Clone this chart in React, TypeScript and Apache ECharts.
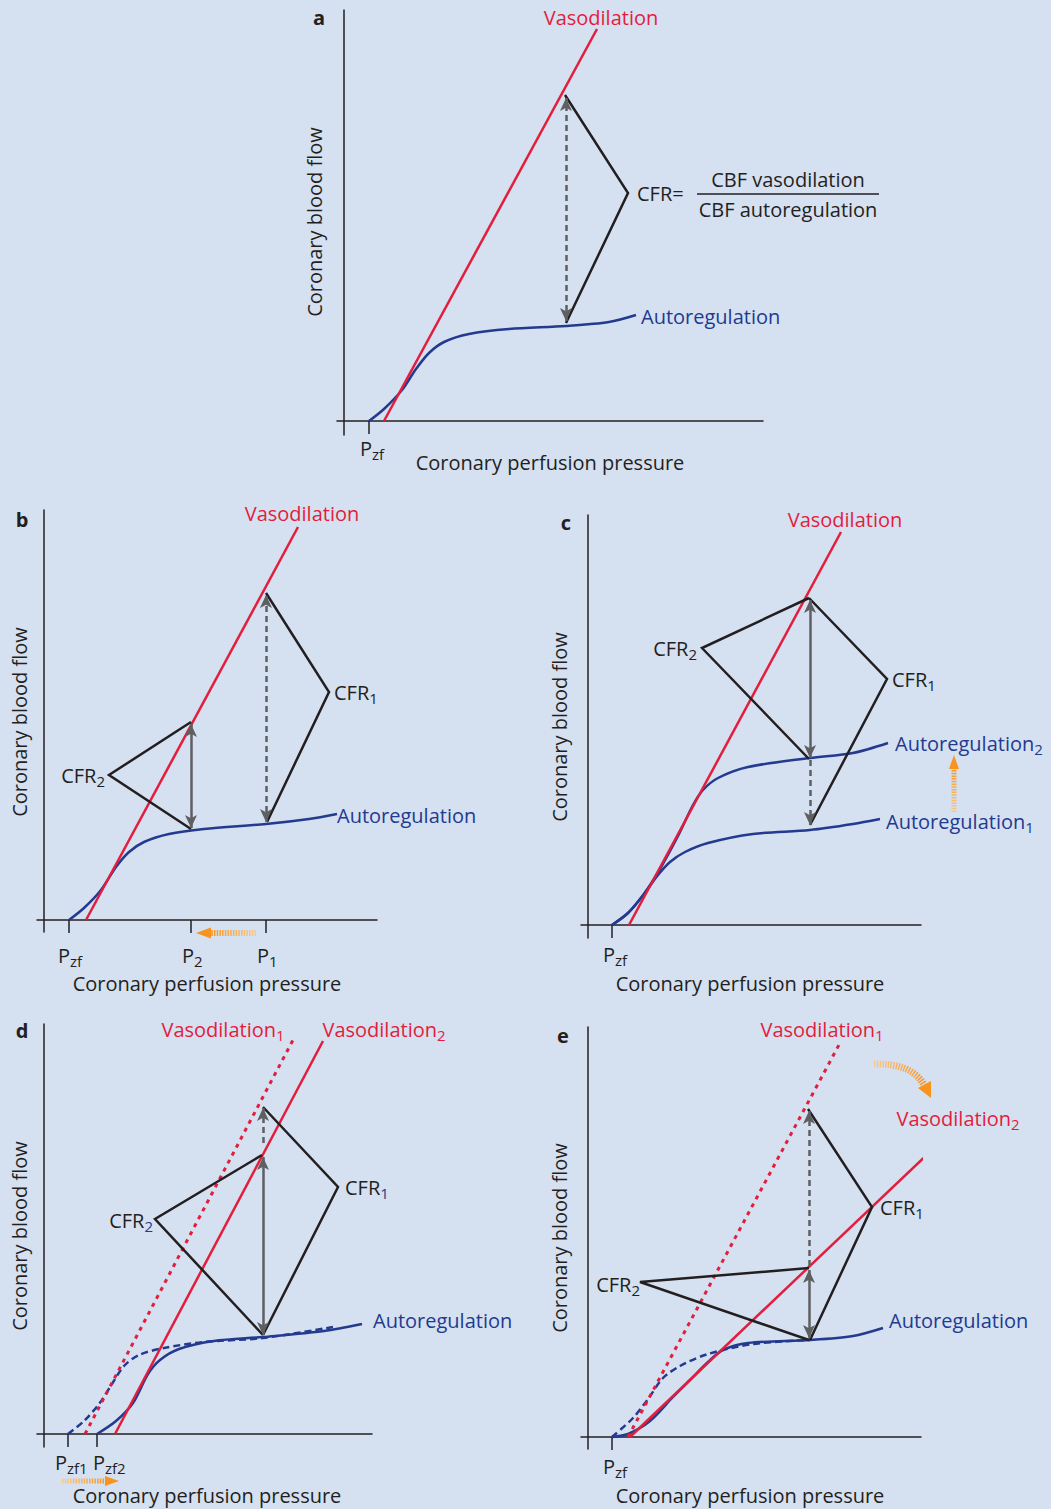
import React, { useEffect, useRef } from "react";
import * as echarts from "echarts";

const FONT = "'Open Sans', 'Noto Sans', sans-serif";
const BG = "#d5e0f1";
const RED = "#e31d3c";
const BLUE = "#233a8f";
const DARK = "#231f20";
const GRAY = "#5e5f61";
const ORANGE = "#f7941d";
const ORANGE_LIGHT = "#f8c98c";

// ---------- data (pressure, flow) ----------
// panel a
const aVasodilation = [[40, 0], [253, 392]];
const aAutoregulation = [[25, 0], [40, 12], [58, 31], [72, 52], [85, 68], [100, 79], [125, 87], [165, 92], [222, 95], [265, 99], [292, 106]];
const aCFR = [[221, 326], [284, 228], [222, 98]];
const aReserveArrow = [[222, 100], [222, 323]];
const aTicks = [25];
const aTickLabels = [["P", "zf"]];

// panel b
const bVasodilation = [[42, 0], [254, 393]];
const bAutoregulation = [[25, 0], [40, 12], [57, 30], [72, 53], [85, 68], [100, 78], [125, 86], [160, 91], [222, 96], [265, 101], [293, 106]];
const bCFR1 = [[222, 327], [285, 228], [223, 98]];
const bCFR2 = [[147, 198], [65, 145], [147, 91]];
const bReserveArrow1 = [[222, 98], [222, 325]];
const bReserveArrow2 = [[147, 92], [147, 196]];
const bTicks = [25, 147, 222];
const bTickLabels = [["P", "zf"], ["P", "2"], ["P", "1"]];

// panel c
const cVasodilation = [[41, 0], [253, 393]];
const cAutoregulation1 = [[24, 0], [40, 12], [56, 31], [70, 50], [82, 63], [97, 73], [120, 82], [165, 91], [222, 95], [265, 101], [292, 106]];
const cAutoregulation2 = [[24, 0], [40, 12], [56, 31], [72, 56], [90, 89], [105, 120], [115, 135], [130, 147], [160, 158], [222, 167], [265, 172], [300, 182]];
const cCFR1 = [[221, 327], [299, 246], [222, 100]];
const cCFR2 = [[221, 327], [114, 277], [221, 166]];
const cReserveArrow2 = [[222, 167], [222, 325]];
const cShiftArrow = [[222, 165], [222, 100]];
const cTicks = [24];
const cTickLabels = [["P", "zf"]];

// panel d
const dVasodilation1 = [[41, 0], [249, 394]];
const dVasodilation2 = [[71, 0], [279, 393]];
const dAutoregulation1 = [[24, 0], [40, 13], [55, 30], [68, 50], [80, 68], [95, 79], [120, 86], [160, 92], [219, 96], [289, 107]];
const dAutoregulation2 = [[53, 0], [72, 13], [89, 31], [104, 60], [116, 74], [135, 85], [170, 93], [219, 97], [280, 103], [318, 110]];
const dCFR1 = [[219, 327], [294, 247], [219, 99]];
const dCFR2 = [[218, 279], [111, 215], [219, 99]];
const dReserveArrow2 = [[219, 99], [219, 277]];
const dShiftArrow = [[219, 291], [219, 326]];
const dTicks = [24, 53];
const dTickLabels = [["P", "zf1"], ["P", "zf2"]];

// panel e
const eVasodilation1 = [[40, 0], [252, 394]];
const eVasodilation2 = [[42, 0], [367, 309]];
const eAutoregulation1 = [[24, 0], [45, 19], [60, 38], [75, 59], [92, 71], [120, 83], [165, 93], [222, 97]];
const eAutoregulation2 = [[24, 0], [40, 3], [62, 16], [85, 40], [102, 57], [120, 75], [135, 87], [160, 94], [222, 97], [265, 101], [295, 109]];
const eCFR1 = [[220, 328], [284, 230], [222, 97]];
const eCFR2 = [[221, 169], [52, 155], [221, 97]];
const eShiftArrow = [[221, 171], [221, 326]];
const eReserveArrow2 = [[221, 99], [221, 167]];
const eTicks = [24];
const eTickLabels = [["P", "zf"]];

// ---------- layout ----------
const PANELS = [
  { left: 337, top: 10, width: 426, height: 425, xMin: -7, xMax: 419, yMin: -14, yMax: 411, labelDy: 27, labelDx: [-9], ticks: aTicks, labels: aTickLabels },
  { left: 37, top: 510, width: 340, height: 422, xMin: -7, xMax: 333, yMin: -12, yMax: 410, labelDy: 35, labelDx: [-11, -9, -9], ticks: bTicks, labels: bTickLabels },
  { left: 581, top: 515, width: 340, height: 423, xMin: -7, xMax: 333, yMin: -13, yMax: 410, labelDy: 29, labelDx: [-9], ticks: cTicks, labels: cTickLabels },
  { left: 37, top: 1024, width: 335, height: 423, xMin: -7, xMax: 328, yMin: -13, yMax: 410, labelDy: 28, labelDx: [-13, -4], ticks: dTicks, labels: dTickLabels },
  { left: 581, top: 1027, width: 340, height: 422, xMin: -7, xMax: 333, yMin: -12, yMax: 410, labelDy: 29, labelDx: [-9], ticks: eTicks, labels: eTickLabels },
];

const curve = (g: number, data: number[][], color: string, o: any = {}) => ({
  type: "line",
  xAxisIndex: g,
  yAxisIndex: g,
  data,
  symbol: "none",
  showSymbol: false,
  smooth: o.smooth ?? false,
  clip: o.clip ?? true,
  silent: true,
  z: o.z ?? 2,
  lineStyle: { color, width: o.width ?? 2.5, type: o.dash ?? "solid", join: "miter", cap: "butt" },
});

const arrow = (g: number, pts: number[][], dashed: boolean, heads: string[]) => ({
  type: "line",
  xAxisIndex: g,
  yAxisIndex: g,
  data: [],
  symbol: "none",
  silent: true,
  z: 5,
  markLine: {
    silent: true,
    symbol: heads,
    symbolSize: [9, 13],
    label: { show: false },
    emphasis: { disabled: true },
    lineStyle: { color: GRAY, width: 2.5, type: dashed ? [6, 4] : "solid" },
    data: [[{ coord: pts[0] }, { coord: pts[1] }]],
  },
});

const bracket = (g: number, data: number[][]) => curve(g, data, DARK, { z: 4, width: 2.5 });
const SM = 0.3;

const series: any[] = [
  // a
  curve(0, aAutoregulation, BLUE, { smooth: SM }),
  curve(0, aVasodilation, RED, { z: 3 }),
  bracket(0, aCFR),
  arrow(0, aReserveArrow, true, ["arrow", "arrow"]),
  // b
  curve(1, bAutoregulation, BLUE, { smooth: SM }),
  curve(1, bVasodilation, RED, { z: 3 }),
  bracket(1, bCFR1),
  bracket(1, bCFR2),
  arrow(1, bReserveArrow1, true, ["arrow", "arrow"]),
  arrow(1, bReserveArrow2, false, ["arrow", "arrow"]),
  // c
  curve(2, cAutoregulation1, BLUE, { smooth: SM }),
  curve(2, cAutoregulation2, BLUE, { smooth: SM }),
  curve(2, cVasodilation, RED, { z: 3 }),
  bracket(2, cCFR1),
  bracket(2, cCFR2),
  arrow(2, cReserveArrow2, false, ["arrow", "arrow"]),
  arrow(2, cShiftArrow, true, ["none", "arrow"]),
  // d
  curve(3, dAutoregulation1, BLUE, { smooth: SM, dash: [7, 4] }),
  curve(3, dAutoregulation2, BLUE, { smooth: SM }),
  curve(3, dVasodilation1, RED, { z: 3, dash: [4, 5], width: 3 }),
  curve(3, dVasodilation2, RED, { z: 3 }),
  bracket(3, dCFR1),
  bracket(3, dCFR2),
  arrow(3, dReserveArrow2, false, ["arrow", "arrow"]),
  arrow(3, dShiftArrow, true, ["none", "arrow"]),
  // e
  curve(4, eAutoregulation1, BLUE, { smooth: SM, dash: [7, 4] }),
  curve(4, eAutoregulation2, BLUE, { smooth: SM }),
  curve(4, eVasodilation1, RED, { z: 3, dash: [4, 5], width: 3 }),
  curve(4, eVasodilation2, RED, { z: 3, clip: false }),
  bracket(4, eCFR1),
  bracket(4, eCFR2),
  arrow(4, eShiftArrow, true, ["none", "arrow"]),
  arrow(4, eReserveArrow2, false, ["arrow", "arrow"]),
];

// ---------- text helpers ----------
const rich = (color: string, subColor: string, bold = false) => ({
  m: { fontSize: 20, fontFamily: FONT, fill: color, lineHeight: 24, fontWeight: bold ? "bold" : "normal" },
  s: { fontSize: 15, fontFamily: FONT, fill: subColor, padding: [11, 0, 0, 0] },
});

const txt = (x: number, y: number, main: string, o: any = {}) => {
  const color = o.color ?? DARK;
  const sub = o.sub ? `{s|${o.sub}}` : "";
  return {
    type: "text",
    x,
    y,
    rotation: o.rotation ?? 0,
    silent: true,
    z: 10,
    style: {
      text: `{m|${main}}${sub}`,
      rich: rich(color, o.subColor ?? color, o.bold),
      align: o.align ?? "center",
      verticalAlign: "middle",
    },
  };
};

// tick labels placed from the tick values through each panel's scale
const tickTexts = PANELS.flatMap((p) => {
  const sx = p.width / (p.xMax - p.xMin);
  const sy = p.height / (p.yMax - p.yMin);
  const y0 = p.top + p.yMax * sy;
  return p.ticks.map((t, k) =>
    txt(p.left + (t - p.xMin) * sx + p.labelDx[k], y0 + p.labelDy, p.labels[k][0], { sub: p.labels[k][1], align: "left" })
  );
});

const V = Math.PI / 2;
const texts = [
  // a
  txt(319, 17, "a", { bold: true }),
  txt(601, 17, "Vasodilation", { color: RED }),
  txt(637, 193, "CFR=", { align: "left" }),
  txt(788, 179, "CBF vasodilation"),
  txt(788, 209, "CBF autoregulation"),
  txt(641, 316, "Autoregulation", { color: BLUE, align: "left" }),
  txt(314, 222, "Coronary blood flow", { rotation: V }),
  txt(550, 462, "Coronary perfusion pressure"),
  // b
  txt(22, 519, "b", { bold: true }),
  txt(302, 513, "Vasodilation", { color: RED }),
  txt(334, 692, "CFR", { sub: "1", align: "left" }),
  txt(105, 775, "CFR", { sub: "2", align: "right" }),
  txt(337, 815, "Autoregulation", { color: BLUE, align: "left" }),
  txt(19, 722, "Coronary blood flow", { rotation: V }),
  txt(207, 983, "Coronary perfusion pressure"),
  // c
  txt(566, 522, "c", { bold: true }),
  txt(845, 519, "Vasodilation", { color: RED }),
  txt(697, 648, "CFR", { sub: "2", align: "right" }),
  txt(892, 679, "CFR", { sub: "1", align: "left" }),
  txt(895, 743, "Autoregulation", { sub: "2", color: BLUE, align: "left" }),
  txt(886, 821, "Autoregulation", { sub: "1", color: BLUE, align: "left" }),
  txt(559, 727, "Coronary blood flow", { rotation: V }),
  txt(750, 983, "Coronary perfusion pressure"),
  // d
  txt(22, 1030, "d", { bold: true }),
  txt(223, 1029, "Vasodilation", { sub: "1", color: RED }),
  txt(384, 1029, "Vasodilation", { sub: "2", color: RED }),
  txt(345, 1187, "CFR", { sub: "1", subColor: BLUE, align: "left" }),
  txt(153, 1220, "CFR", { sub: "2", subColor: BLUE, align: "right" }),
  txt(373, 1320, "Autoregulation", { color: BLUE, align: "left" }),
  txt(19, 1236, "Coronary blood flow", { rotation: V }),
  txt(207, 1495, "Coronary perfusion pressure"),
  // e
  txt(563, 1035, "e", { bold: true }),
  txt(822, 1029, "Vasodilation", { sub: "1", color: RED }),
  txt(958, 1118, "Vasodilation", { sub: "2", color: RED }),
  txt(880, 1207, "CFR", { sub: "1", align: "left" }),
  txt(640, 1284, "CFR", { sub: "2", align: "right" }),
  txt(889, 1320, "Autoregulation", { color: BLUE, align: "left" }),
  txt(559, 1238, "Coronary blood flow", { rotation: V }),
  txt(750, 1495, "Coronary perfusion pressure"),
];

const grad = (x1: number, y1: number, x2: number, y2: number) =>
  new echarts.graphic.LinearGradient(x1, y1, x2, y2, [
    { offset: 0, color: ORANGE_LIGHT },
    { offset: 1, color: ORANGE },
  ], true);

const hatch = { lineWidth: 6, lineDash: [1.5, 1.2], lineCap: "butt" };

const shapes: any[] = [
  // fraction bar in a
  { type: "line", silent: true, shape: { x1: 697, y1: 194, x2: 879, y2: 194 }, style: { stroke: DARK, lineWidth: 1.5 } },
  // b: orange arrow left
  { type: "line", silent: true, shape: { x1: 256, y1: 933, x2: 210, y2: 933 }, style: { ...hatch, stroke: grad(256, 933, 210, 933) } },
  { type: "polygon", silent: true, shape: { points: [[196, 933], [211, 927.5], [211, 938.5]] }, style: { fill: ORANGE } },
  // c: orange arrow up
  { type: "line", silent: true, shape: { x1: 954, y1: 812, x2: 954, y2: 768 }, style: { ...hatch, lineWidth: 5, stroke: grad(954, 812, 954, 768) } },
  { type: "polygon", silent: true, shape: { points: [[954, 755], [949, 769], [959, 769]] }, style: { fill: ORANGE } },
  // d: orange arrow right
  { type: "line", silent: true, shape: { x1: 62, y1: 1481, x2: 106, y2: 1481 }, style: { ...hatch, lineWidth: 5, stroke: grad(62, 1481, 106, 1481) } },
  { type: "polygon", silent: true, shape: { points: [[119, 1481], [105, 1476], [105, 1486]] }, style: { fill: ORANGE } },
  // e: curved orange arrow
  { type: "bezierCurve", silent: true, shape: { x1: 874, y1: 1064, cpx1: 912, cpy1: 1063, x2: 924, y2: 1085 }, style: { ...hatch, lineWidth: 7, fill: null, stroke: grad(874, 1064, 924, 1085) } },
  { type: "polygon", silent: true, shape: { points: [[931, 1098], [918, 1088], [931, 1081]] }, style: { fill: ORANGE } },
];

const option: any = {
  animation: false,
  backgroundColor: BG,
  grid: PANELS.map((p) => ({ left: p.left, top: p.top, width: p.width, height: p.height, containLabel: false })),
  xAxis: PANELS.map((p, i) => ({
    type: "value",
    gridIndex: i,
    min: p.xMin,
    max: p.xMax,
    splitLine: { show: false },
    axisLine: { show: true, onZero: true, lineStyle: { color: DARK, width: 1.5 } },
    axisTick: { show: true, customValues: p.ticks, length: 13, inside: false, lineStyle: { color: DARK, width: 1.5 } },
    axisLabel: { show: false },
  })),
  yAxis: PANELS.map((p, i) => ({
    type: "value",
    gridIndex: i,
    min: p.yMin,
    max: p.yMax,
    splitLine: { show: false },
    axisLine: { show: true, onZero: true, lineStyle: { color: DARK, width: 1.5 } },
    axisTick: { show: false },
    axisLabel: { show: false },
  })),
  series,
  graphic: { elements: [...shapes, ...tickTexts, ...texts] },
};

export default function App() {
  const ref = useRef<HTMLDivElement>(null);
  useEffect(() => {
    const chart = echarts.init(ref.current!, null, { renderer: "svg" });
    chart.setOption(option);
    return () => chart.dispose();
  }, []);
  return <div ref={ref} style={{ position: "absolute", left: 0, top: 0, width: 1051, height: 1509 }} />;
}
